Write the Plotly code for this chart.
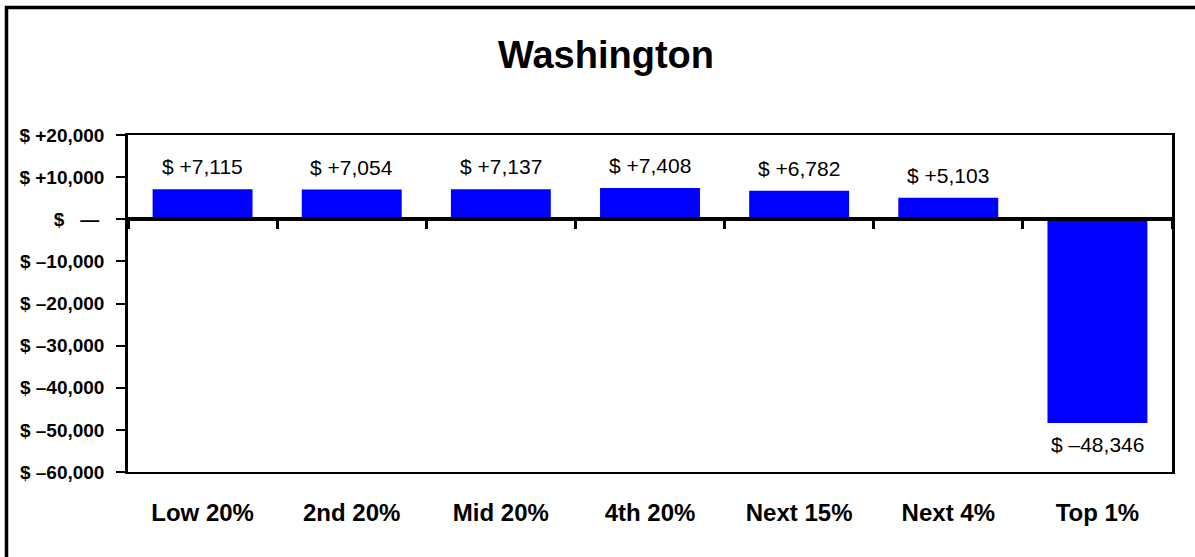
import plotly.graph_objects as go

categories = ["Low 20%", "2nd 20%", "Mid 20%", "4th 20%", "Next 15%", "Next 4%", "Top 1%"]
values = [7115, 7054, 7137, 7408, 6782, 5103, -48346]
tick_vals = [20000, 10000, 0, -10000, -20000, -30000, -40000, -50000, -60000]
tick_text = ["$ +20,000", "$ +10,000", "$\u00a0\u00a0\u00a0\u2014\u00a0", "$ \u201310,000", "$ \u201320,000",
             "$ \u201330,000", "$ \u201340,000", "$ \u201350,000", "$ \u201360,000"]

def fmt(v):
    s = f"{abs(v):,}"
    return ("$ +" if v >= 0 else "$ \u2013") + s

W, H = 1195, 557
L, R, T, B = 128, 23, 135, 85
pw, ph = W - L - R, H - T - B
FONT = "Liberation Sans, Arial"

fig = go.Figure()
fig.add_trace(go.Bar(x=categories, y=values, marker=dict(color="#0000FF", line=dict(width=0)),
                     hoverinfo="skip", xaxis="x", yaxis="y"))
fig.add_trace(go.Scatter(x=categories, y=[0] * len(categories), mode="markers",
                         marker=dict(opacity=0), hoverinfo="skip", xaxis="x2", yaxis="y",
                         showlegend=False))

annotations = []
for c, v in zip(categories, values):
    annotations.append(dict(x=c, y=v, xref="x", yref="y", text=fmt(v), showarrow=False,
                            yanchor="bottom" if v >= 0 else "top",
                            yshift=9 if v >= 0 else -8,
                            font=dict(family=FONT, size=21, color="black")))

fig.update_layout(
    width=W, height=H,
    margin=dict(l=L, r=R, t=T, b=B),
    paper_bgcolor="white", plot_bgcolor="white",
    showlegend=False,
    bargap=0.33,
    title=dict(text="<b>Washington</b>", x=606 / W, xanchor="center", y=1 - 55 / H, yanchor="middle",
               font=dict(family=FONT, size=38, color="black")),
    xaxis=dict(type="category", categoryorder="array", categoryarray=categories,
               range=[-0.5, 6.5], showline=True, linecolor="black", linewidth=2, mirror=True,
               ticks="", showgrid=False, zeroline=False, ticklabelstandoff=18,
               tickfont=dict(family=FONT, size=24, color="black", weight="bold")),
    xaxis2=dict(type="category", categoryorder="array", categoryarray=categories,
                range=[-0.5, 6.5], overlaying="x", anchor="free", position=0.75, side="bottom",
                showline=True, linecolor="black", linewidth=3.5, ticks="outside", ticklen=8,
                tickwidth=3, tickcolor="black", tickson="boundaries", showticklabels=False,
                showgrid=False, zeroline=False),
    yaxis=dict(range=[-60000, 20000], tickvals=tick_vals, ticktext=tick_text,
               showline=True, linecolor="black", linewidth=2.5, mirror=True,
               ticks="outside", ticklen=9, tickwidth=2, tickcolor="black", showgrid=False,
               zeroline=False, ticklabelstandoff=8,
               tickfont=dict(family=FONT, size=19, color="black", weight="bold")),
    annotations=annotations,
    shapes=[dict(type="rect", xref="paper", yref="paper",
                 x0=(6.5 - L) / pw, x1=1.2, y0=-0.6, y1=1 + (T - 7.5) / ph,
                 line=dict(color="black", width=3.5), layer="above")],
)

fig.write_html("out.html", config={"displayModeBar": False},
               post_script="document.body.style.margin='0';document.body.style.padding='0';")
